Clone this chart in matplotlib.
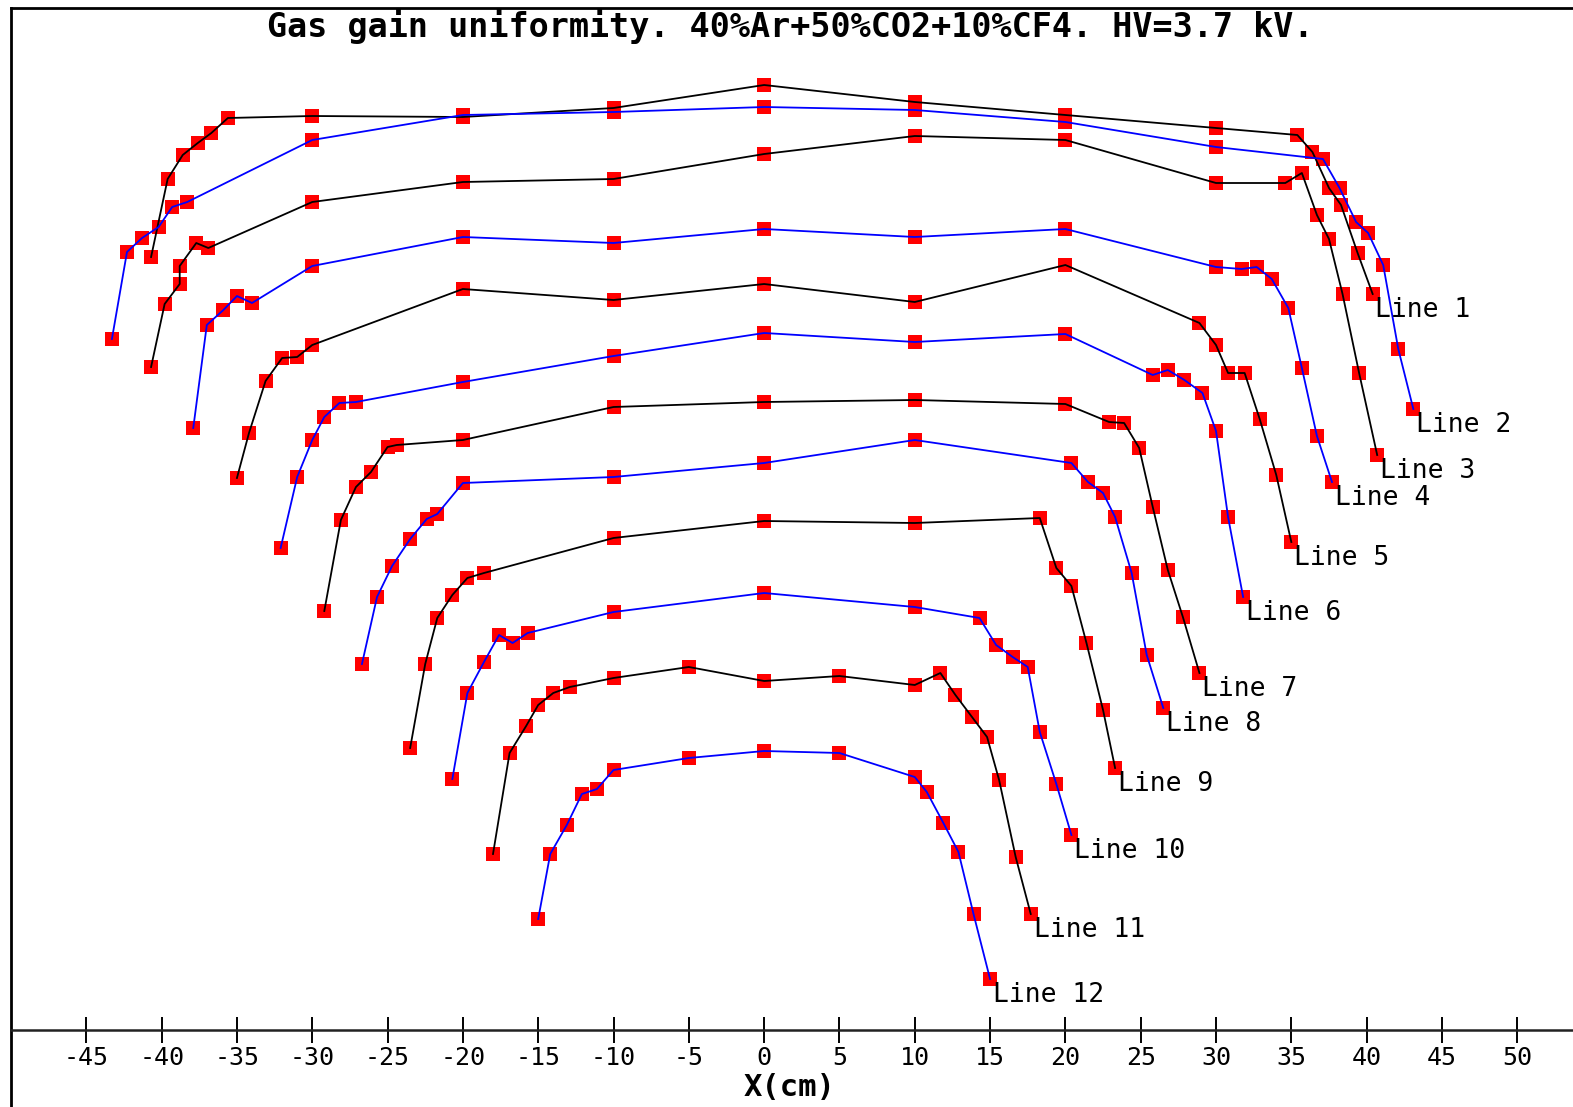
import matplotlib
matplotlib.use("Agg")
import matplotlib.pyplot as plt

plt.rcParams['axes.unicode_minus'] = False

# X position (cm) and gas gain (arbitrary units, no y scale on the original)
line1_x = [-40.7, -39.6, -38.6, -37.6, -36.7, -35.6, -30, -20, -10, 0, 10, 20, 30, 35.4, 36.4, 37.5, 38.3, 39.4, 40.4]
line1_y = [773, 851, 875, 887, 897, 912, 914, 913, 922, 945, 928, 915, 902, 895, 878, 842, 825, 777, 736]

line2_x = [-43.3, -42.3, -41.3, -40.2, -39.3, -38.3, -30, -20, -10, 0, 10, 20, 30, 37.1, 38.2, 39.3, 40.1, 41.1, 42.1, 43.1]
line2_y = [691, 778, 792, 803, 823, 828, 890, 915, 918, 923, 920, 908, 883, 871, 842, 808, 797, 765, 681, 621]

line3_x = [-40.7, -39.8, -38.8, -38.8, -37.7, -36.9, -30, -20, -10, 0, 10, 20, 30, 34.6, 35.7, 36.7, 37.5, 38.4, 39.5, 40.7]
line3_y = [663, 726, 746, 764, 787, 782, 828, 848, 851, 876, 894, 890, 847, 847, 857, 815, 791, 736, 657, 575]

line4_x = [-37.9, -37.0, -35.9, -35.0, -34.0, -30, -20, -10, 0, 10, 20, 30, 31.7, 32.7, 33.7, 34.8, 35.7, 36.7, 37.7]
line4_y = [602, 705, 720, 734, 727, 764, 793, 787, 801, 793, 801, 763, 761, 763, 751, 722, 662, 594, 548]

line5_x = [-35.0, -34.2, -33.1, -32.0, -31.0, -30, -20, -10, 0, 10, 20, 28.9, 30, 30.8, 31.9, 32.9, 34.0, 35.0]
line5_y = [552, 597, 649, 672, 673, 685, 741, 730, 746, 728, 765, 707, 685, 657, 657, 611, 555, 488]

line6_x = [-32.1, -31.0, -30, -29.2, -28.2, -27.1, -20, -10, 0, 10, 20, 25.8, 26.8, 27.9, 29.1, 30, 30.8, 31.8]
line6_y = [482, 553, 590, 613, 627, 628, 648, 674, 697, 688, 696, 655, 660, 650, 637, 599, 513, 433]

line7_x = [-29.2, -28.1, -27.1, -26.1, -25.0, -24.4, -20, -10, 0, 10, 20, 22.9, 23.9, 24.9, 25.8, 26.8, 27.8, 28.9]
line7_y = [419, 510, 543, 558, 583, 585, 590, 623, 628, 630, 626, 608, 607, 582, 523, 460, 413, 357]

line8_x = [-26.7, -25.7, -24.7, -23.5, -22.4, -21.7, -20, -10, 0, 10, 20.4, 21.5, 22.5, 23.3, 24.4, 25.4, 26.5]
line8_y = [366, 433, 464, 491, 511, 516, 547, 553, 567, 590, 567, 548, 537, 513, 457, 375, 322]

line9_x = [-23.5, -22.5, -21.7, -20.7, -19.7, -18.6, -10, 0, 10, 18.3, 19.4, 20.4, 21.4, 22.5, 23.3]
line9_y = [282, 366, 412, 435, 452, 457, 492, 509, 507, 512, 462, 444, 387, 320, 262]

line10_x = [-20.7, -19.7, -18.6, -17.6, -16.7, -15.7, -10, 0, 10, 14.3, 15.4, 16.5, 17.5, 18.3, 19.4, 20.4]
line10_y = [251, 337, 368, 395, 387, 397, 418, 437, 423, 412, 385, 373, 363, 298, 246, 195]

line11_x = [-18.0, -16.9, -15.8, -15.0, -14.0, -12.9, -10, -5, 0, 5, 10, 11.7, 12.7, 13.8, 14.8, 15.6, 16.7, 17.7]
line11_y = [176, 277, 304, 325, 337, 343, 352, 363, 349, 354, 345, 357, 335, 313, 293, 250, 173, 116]

line12_x = [-15.0, -14.2, -13.1, -12.1, -11.1, -10, -5, 0, 5, 10, 10.8, 11.9, 12.9, 13.9, 15.0]
line12_y = [111, 176, 205, 236, 241, 260, 272, 279, 277, 253, 238, 207, 178, 116, 51]

all_x = [line1_x, line2_x, line3_x, line4_x, line5_x, line6_x,
         line7_x, line8_x, line9_x, line10_x, line11_x, line12_x]
all_y = [line1_y, line2_y, line3_y, line4_y, line5_y, line6_y,
         line7_y, line8_y, line9_y, line10_y, line11_y, line12_y]
line_colors = ['black', 'blue']
x_ticks = list(range(-45, 55, 5))

W, H = 1573, 1107
fig = plt.figure(figsize=(W / 100, H / 100), dpi=100)
ax = fig.add_axes([11 / W, 0, 1 - 11 / W, (H - 8) / H])

mono = 'DejaVu Sans Mono'

for i, (xs, ys) in enumerate(zip(all_x, all_y)):
    ax.plot(xs, ys, 's', color='red', markersize=9.5, markeredgewidth=0, zorder=2)
    ax.plot(xs, ys, '-', color=line_colors[i % 2], linewidth=1.3, zorder=3)
    ax.annotate(f"Line {i + 1}", (xs[-1], ys[-1]), xytext=(2, -2),
                textcoords='offset points', ha='left', va='top',
                fontsize=19, family=mono, zorder=4)

ax.set_xlim(-50, 53.7)
ax.set_ylim(-77, 1022)

# axis styling: left + top frame, x axis drawn at y=0
ax.spines['right'].set_visible(False)
ax.spines['left'].set_linewidth(2)
ax.spines['top'].set_linewidth(2)
ax.spines['bottom'].set_position(('data', 0))
ax.spines['bottom'].set_linewidth(1.8)
ax.spines['bottom'].set_color('#222222')

ax.set_yticks([])
ax.set_xticks(x_ticks)
ax.set_xticklabels([str(t) for t in x_ticks], family=mono, fontsize=18)
ax.tick_params(axis='x', direction='inout', length=19, width=1.4, pad=2)

fig.text(790 / W, 1 - 27 / H, "Gas gain uniformity. 40%Ar+50%CO2+10%CF4. HV=3.7 kV.",
         ha='center', va='center', fontsize=24, fontweight='bold', family=mono)
fig.text(790 / W, 1 - 1088 / H, "X(cm)", ha='center', va='center',
         fontsize=22, fontweight='bold', family=mono)

fig.savefig("out.png", dpi=100)
